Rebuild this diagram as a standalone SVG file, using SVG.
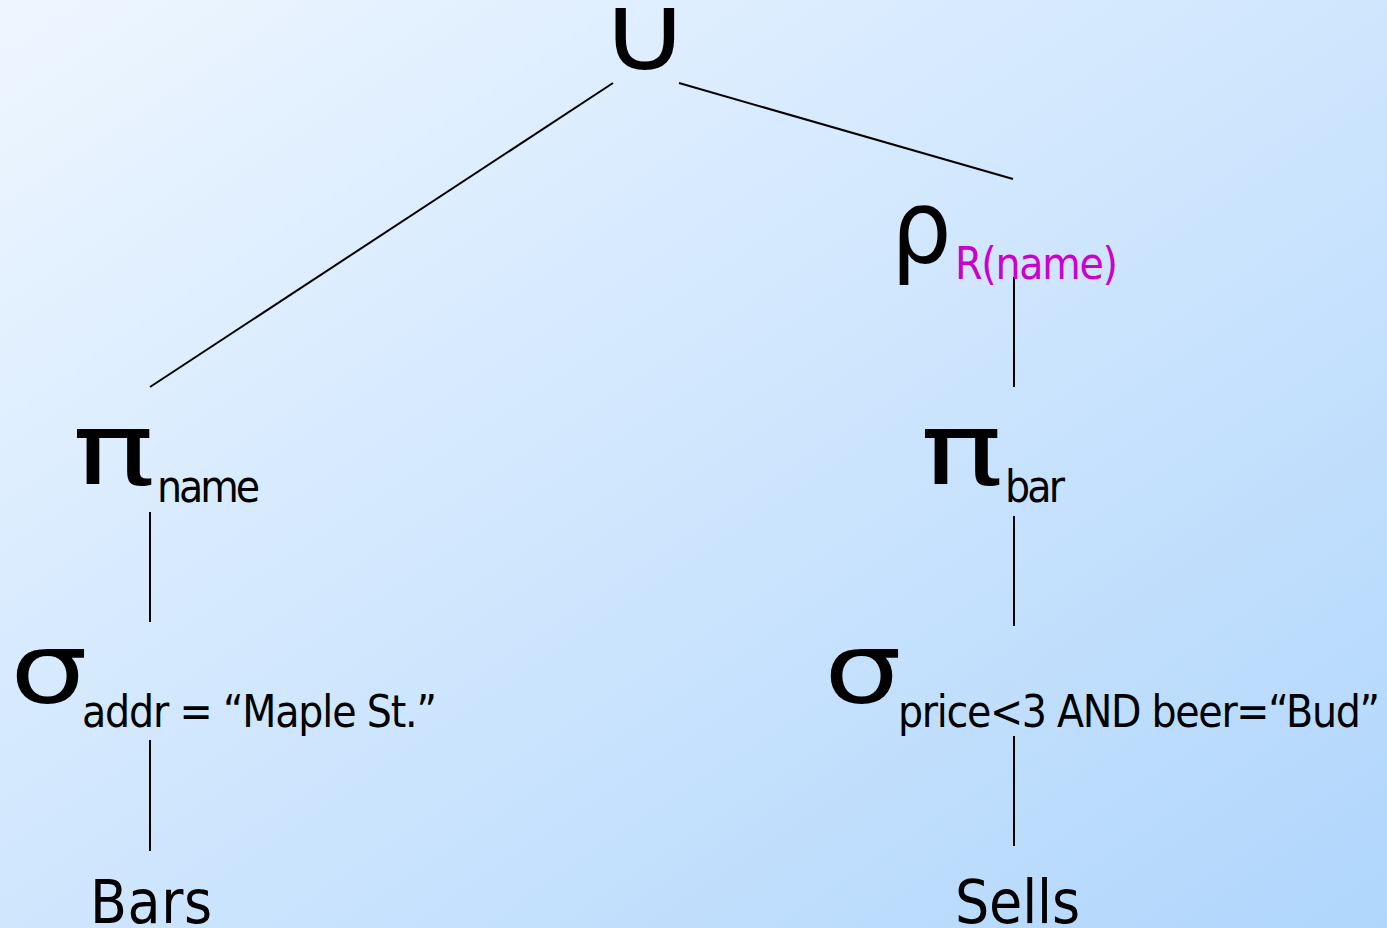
<svg xmlns="http://www.w3.org/2000/svg" width="1387" height="928" viewBox="0 0 1387 928">
<defs>
<linearGradient id="bg" x1="0" y1="0" x2="1" y2="1">
<stop offset="0" stop-color="#eef6ff"/>
<stop offset="1" stop-color="#b0d6fc"/>
</linearGradient>
<style>
.op{font-family:"DejaVu Sans",sans-serif;fill:#000}
.sub{font-family:"DejaVu Sans Condensed","DejaVu Sans",sans-serif;font-size:44px;fill:#000}
.mag{fill:#cc00cc}
.rel{font-family:"DejaVu Sans Condensed","DejaVu Sans",sans-serif;font-size:60px;fill:#000}
.edge{stroke:#000;stroke-width:2;fill:none}
</style>
</defs>
<rect width="1387" height="928" fill="url(#bg)"/>
<g id="connectors">
<line class="edge" x1="613" y1="83" x2="150" y2="387"/>
<line class="edge" x1="679" y1="83" x2="1013" y2="179"/>
<line class="edge" x1="1014" y1="277" x2="1014" y2="387"/>
<line class="edge" x1="150" y1="512" x2="150" y2="622"/>
<line class="edge" x1="1014" y1="516" x2="1014" y2="626"/>
<line class="edge" x1="150" y1="740" x2="150" y2="851"/>
<line class="edge" x1="1014" y1="736" x2="1014" y2="846"/>
</g>
<g id="union"><text class="op" transform="translate(644.5,70) scale(1.15,1)" font-size="107" text-anchor="middle">∪</text></g>
<g id="rename"><text class="op" transform="translate(891,263) scale(0.92,1)" font-size="104">ρ</text><text class="sub mag" x="955" y="279" textLength="163">R(name)</text></g>
<g id="proj-name"><text class="op" transform="translate(72,485) scale(1.38,1)" font-size="100">π</text><text class="sub" x="157" y="502" textLength="103">name</text></g>
<g id="proj-bar"><text class="op" transform="translate(920,485) scale(1.38,1)" font-size="100">π</text><text class="sub" x="1005" y="502" textLength="60">bar</text></g>
<g id="sel-addr"><text class="op" transform="translate(10,703) scale(1.25,1)" font-size="98">σ</text><text class="sub" x="82" y="727" textLength="355">addr = “Maple St.”</text></g>
<g id="sel-price"><text class="op" transform="translate(824,703) scale(1.25,1)" font-size="98">σ</text><text class="sub" x="898" y="727" textLength="482">price&lt;3 AND beer=“Bud”</text></g>
<g id="bars"><text class="rel" x="90" y="923" textLength="122">Bars</text></g>
<g id="sells"><text class="rel" x="955" y="923" textLength="125">Sells</text></g>
</svg>
